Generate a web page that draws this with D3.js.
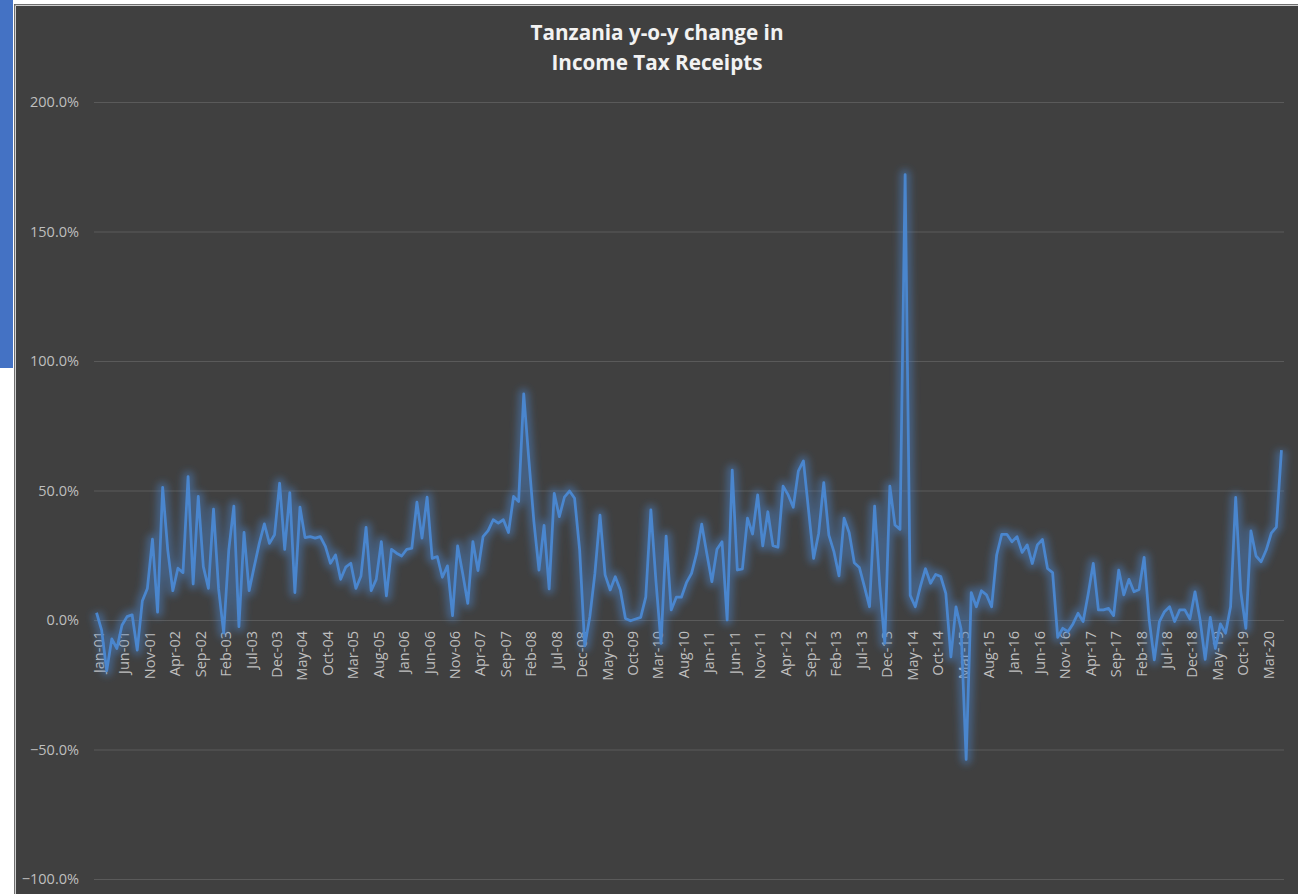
<!DOCTYPE html>
<html>
<head>
<meta charset="utf-8">
<script src="https://cdn.jsdelivr.net/npm/d3@7/dist/d3.min.js"></script>
<style>
  html, body { margin: 0; padding: 0; background: #ffffff; }
  svg { display: block; }
</style>
</head>
<body>
<svg id="chart" width="1298" height="894"></svg>
<script>
// Monthly series, January 2001 onward
const startYear = 2001;
const monthNames = ["Jan","Feb","Mar","Apr","May","Jun","Jul","Aug","Sep","Oct","Nov","Dec"];

// Year-on-year change in income tax receipts, percent
const yoyChange = [
  2.8, -3.9, -19.6, -7.3, -11, -2, 1.3, 2, -11.6, 7.3, 12.2, 31.2,
  3, 51.2, 27, 11.3, 20, 18.3, 55.4, 13.9, 47.7, 20.6, 12.2, 42.8,
  12, -5, 27, 44, -2.6, 33.8, 11.3, 20.6, 29.6, 37.1, 29.6, 32.9,
  52.8, 27.3, 49.2, 10.6, 43.6, 31.8, 32.2, 31.6, 32.2, 28.4, 21.9, 25.1,
  15.7, 20.4, 21.9, 12.2, 17, 35.8, 11.3, 15.7, 30.3, 9.3, 27.3, 25.8,
  24.7, 27.3, 27.7, 45.5, 31.6, 47.4, 23.8, 24.5, 16.5, 20.9, 1.7, 28.6,
  18, 6.4, 30.3, 19.1, 32.2, 34.5, 38.7, 37.4, 38.7, 33.8, 47.7, 45.7,
  87.3, 62, 38, 19.3, 36.5, 12, 48.9, 39.9, 47.4, 49.8, 47, 27,
  -10, 1.3, 18, 40.5, 17.4, 11.6, 16.7, 11.6, 0.6, -0.3, 0.4, 1,
  8.8, 42.5, 15, -9, 32.4, 3.9, 8.8, 8.8, 14.4, 18, 25.7, 37,
  25.7, 14.8, 27.3, 30.2, 0, 57.9, 19.3, 19.7, 39.3, 33.2, 48.3, 28.6,
  41.8, 28.7, 28.1, 51.7, 48.3, 43.5, 57.5, 61.4, 42.5, 23.8, 33.5, 53,
  32.8, 26.4, 17, 39.3, 33.7, 22.1, 20.3, 12.9, 5.1, 44, 13.5, -9,
  51.7, 36.7, 35, 172, 9.5, 5.1, 13, 19.8, 14.2, 17.6, 16.8, 10.3,
  -14.2, 5.1, -3.5, -53.8, 10.6, 5.1, 11.3, 9.7, 5.1, 25.1, 33.1, 33.1,
  30.2, 32.2, 26.1, 29, 21.8, 29, 31.1, 19.9, 18.3, -6.7, -3.2, -4.5,
  -1.5, 2.6, -0.6, 10, 21.9, 3.9, 3.9, 4.5, 1.7, 19.3, 9.7, 15.7,
  10.9, 11.8, 24.2, 0, -15.4, -0.6, 3.2, 5.1, -0.6, 3.9, 3.9, 0.4,
  10.9, 0, -15.2, 1, -11, -1.5, -5.1, 5.1, 47.3, 11, -3.2, 34.4,
  24.7, 22.5, 27, 33.5, 35.9, 65.6
];

const categories = yoyChange.map((_, i) =>
  monthNames[i % 12] + "-" + String((startYear + Math.floor(i / 12)) % 100).padStart(2, "0"));

const yTicks = [-100, -50, 0, 50, 100, 150, 200];
const labelEvery = 5;
const titleLines = ["Tanzania y-o-y change in", "Income Tax Receipts"];

const svg = d3.select("#chart");
const W = 1298, H = 894;
const plot = { left: 94, right: 1284, top: 102, bottom: 879 };

// page accent strip
svg.append("rect").attr("x", 0).attr("y", 0).attr("width", 13).attr("height", 368).attr("fill", "#4472c4");

// chart frame
svg.append("rect").attr("x", 14).attr("y", 4).attr("width", W).attr("height", H)
  .attr("fill", "#404040");
svg.append("path").attr("d", `M14.5,${H} V4.5 H${W}`).attr("fill", "none")
  .attr("stroke", "#6f6f6f").attr("stroke-width", 1);
svg.append("path").attr("d", `M15.5,${H} V5.5 H${W}`).attr("fill", "none")
  .attr("stroke", "#cfcfcf").attr("stroke-width", 1);

const x = d3.scaleBand().domain(categories).range([plot.left, plot.right]).padding(0);
const cx = c => x(c) + x.bandwidth() / 2;
const y = d3.scaleLinear().domain([-100, 200]).range([plot.bottom, plot.top]);

// horizontal gridlines and percent labels
const yAxis = d3.axisLeft(y).tickValues(yTicks)
  .tickSize(-(plot.right - plot.left)).tickPadding(15)
  .tickFormat(d => d3.format(".1f")(d) + "%");
const gy = svg.append("g").attr("transform", `translate(${plot.left},0)`).call(yAxis);
gy.select(".domain").remove();
gy.selectAll(".tick line").attr("stroke", "#5a5a5a").attr("stroke-width", 1);
gy.selectAll(".tick text").attr("fill", "#bfbfbf")
  .style("font-family", "'Open Sans', sans-serif").style("font-size", "14.5px");

// category labels sitting on the zero line
const xAxis = d3.axisBottom(x)
  .tickValues(categories.filter((_, i) => i % labelEvery === 0))
  .tickSize(0).tickPadding(0);
const gx = svg.append("g").attr("transform", `translate(0,${y(0)})`).call(xAxis);
gx.select(".domain").remove();
gx.selectAll(".tick text")
  .attr("fill", "#bfbfbf")
  .style("font-family", "'Open Sans', sans-serif").style("font-size", "14.5px")
  .attr("text-anchor", "end")
  .attr("dy", null).attr("y", 0)
  .attr("transform", "translate(2,11) rotate(-90)")
  .attr("dominant-baseline", "central");

// line with soft glow
const defs = svg.append("defs");
const glow = defs.append("filter").attr("id", "glow")
  .attr("x", "-10%").attr("y", "-10%").attr("width", "120%").attr("height", "120%");
glow.append("feGaussianBlur").attr("stdDeviation", 3.5);

const line = d3.line().x((d, i) => cx(categories[i])).y(d => y(d));

svg.append("path").datum(yoyChange)
  .attr("d", line).attr("fill", "none")
  .attr("stroke", "#4a86ce").attr("stroke-width", 11).attr("stroke-opacity", 0.45)
  .attr("stroke-linejoin", "round").attr("filter", "url(#glow)");
svg.append("path").datum(yoyChange)
  .attr("d", line).attr("fill", "none")
  .attr("stroke", "#4a86ce").attr("stroke-width", 2.75)
  .attr("stroke-linejoin", "round");

// title
const title = svg.append("text").attr("x", 657).attr("y", 40)
  .attr("text-anchor", "middle").attr("fill", "#f2f2f2")
  .style("font-family", "'Open Sans', sans-serif").style("font-weight", "700")
  .style("font-size", "20.7px");
titleLines.forEach((t, i) => title.append("tspan").attr("x", 657).attr("dy", i === 0 ? 0 : 30).text(t));
</script>
</body>
</html>
